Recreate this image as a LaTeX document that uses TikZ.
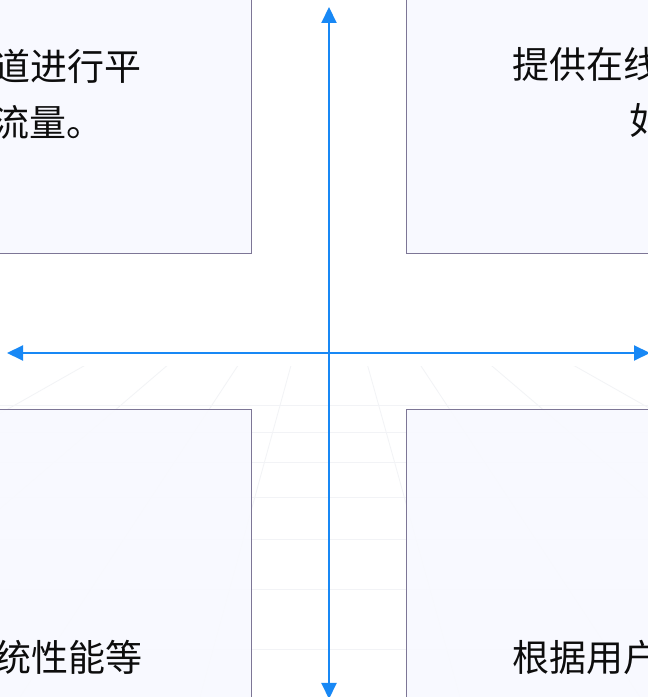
\documentclass[tikz,border=0pt]{standalone}
\usepackage{fontspec}
\setmainfont{Noto Sans CJK SC}
\usetikzlibrary{arrows.meta}
\definecolor{arrowblue}{RGB}{24,136,245}
\definecolor{boxline}{RGB}{125,118,150}
\definecolor{boxfill}{RGB}{248,249,255}
\definecolor{gridline}{RGB}{242,243,246}
\begin{document}
\begin{tikzpicture}[x=1pt,y=1pt,
  panel/.style={draw=boxline, line width=1pt, fill=boxfill, fill opacity=0.9, draw opacity=1},
  txt/.style={font=\fontsize{37}{44}\selectfont, inner sep=0pt, text=black!95},
  axis/.style={draw=arrowblue, line width=2pt,
    {Triangle[length=16pt,width=15pt]}-{Triangle[length=16pt,width=15pt]}}]
\useasboundingbox (0,0) rectangle (648,697);
\fill[white] (0,0) rectangle (648,697);
% faint perspective floor in the background
\begin{scope}
  \clip (0,0) rectangle (648,330);
  \foreach \y in {292,265,235,200,158,108,48}
    \draw[gridline, line width=0.8pt] (0,\y) -- (648,\y);
  \foreach \x in {-500,-220,20,200,329,460,640,880,1160}
    \draw[gridline, line width=0.8pt] (329,470) -- (\x,0);
\end{scope}
% panels
\path[panel] (-2,443) rectangle (251,699);
\path[panel] (406,443) rectangle (650,699);
\path[panel] (-2,-2) rectangle (251,287);
\path[panel] (406,-2) rectangle (650,287);
% texts
\node[txt, anchor=base east] (tl1) at (142,616) {道进行平};
\node[txt, anchor=base east] (tl2) at (104,560) {流量。};
\node[txt, anchor=base west] (tr1) at (512,618) {提供在线};
\node[txt, anchor=base west] (tr2) at (629,562) {如};
\node[txt, anchor=base east] (bl1) at (143,25) {统性能等};
\node[txt, anchor=base west] (br1) at (512,25) {根据用户};
% axes
\coordinate (vtop) at (329,690);
\coordinate (vbot) at (329,-2);
\coordinate (hleft) at (7,344);
\coordinate (hright) at (650,344);
\draw[axis] (vbot) -- (vtop);
\draw[axis] (hleft) -- (hright);
\end{tikzpicture}
\end{document}
